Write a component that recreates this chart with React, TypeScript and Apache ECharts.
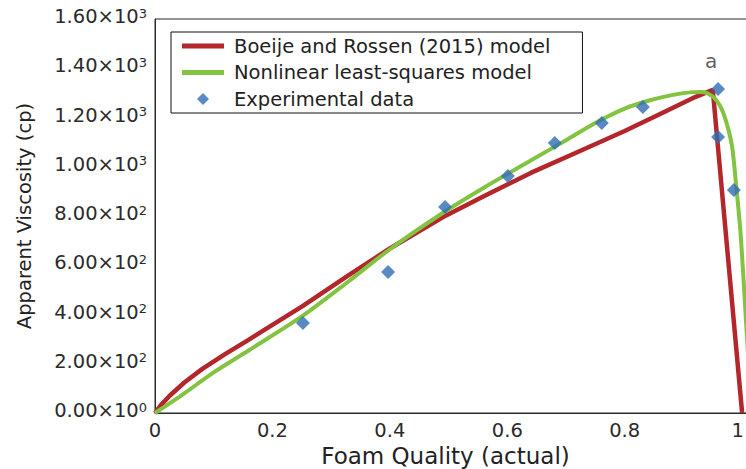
import React, { useEffect, useRef } from "react";
import * as echarts from "echarts";

// Boeije and Rossen (2015) model
const boeijeX = [0, 0.01, 0.025, 0.05, 0.08, 0.12, 0.16, 0.2, 0.25, 0.33, 0.4, 0.49, 0.56, 0.64, 0.72, 0.8, 0.87, 0.92, 0.95, 1.0];
const boeijeY = [0, 32, 70, 124, 178, 240, 298, 358, 432, 560, 668, 795, 880, 975, 1060, 1145, 1225, 1283, 1312, 0];

// Nonlinear least-squares model
const nlsX = [0, 0.05, 0.1, 0.16, 0.25, 0.33, 0.4, 0.49, 0.56, 0.64, 0.7, 0.75, 0.8, 0.84, 0.88, 0.91, 0.93, 0.95, 0.965, 0.975, 0.983, 0.99, 0.997, 1.004, 1.01, 1.017];
const nlsY = [0, 80, 165, 255, 392, 535, 665, 812, 915, 1025, 1108, 1178, 1236, 1268, 1291, 1302, 1304, 1285, 1235, 1165, 1080, 920, 740, 480, 240, 0];

// Experimental data
const expX = [0.252, 0.397, 0.494, 0.601, 0.681, 0.761, 0.831, 0.959, 0.959, 0.986];
const expY = [365, 573, 837, 962, 1096, 1178, 1243, 1316, 1121, 906];
const labelledPoint = 7;
const pointLabel = "a";

const seriesNames = [
  "Boeije and Rossen (2015) model",
  "Nonlinear least-squares model",
  "Experimental data",
];
const xTickLabels = ["0", "0.2", "0.4", "0.6", "0.8", "1"];
const xTitle = "Foam Quality (actual)";
const yTitle = "Apparent Viscosity (cp)";

const FONT = "DejaVu Sans";

function sciLabel(v: number): string {
  if (v === 0) return "{m|0.00×10}{e|0}";
  const e = Math.floor(Math.log10(v) + 1e-9);
  const m = (v / Math.pow(10, e)).toFixed(2);
  return `{m|${m}×10}{e|${e}}`;
}

export default function App() {
  const ref = useRef<HTMLDivElement>(null);
  useEffect(() => {
    if (!ref.current) return;
    const chart = echarts.init(ref.current, undefined, { renderer: "svg" });
    const option: any = {
      animation: false,
      backgroundColor: "#ffffff",
      grid: {
        left: 155,
        right: -2,
        top: 19,
        bottom: 56,
        show: true,
        borderColor: "#2a2a2a",
        borderWidth: 1,
        containLabel: false,
        outerBoundsMode: "none",
      },
      legend: {
        orient: "vertical",
        left: 171,
        top: 32,
        padding: [3, 32, 3, 11],
        itemGap: 4.5,
        itemWidth: 42,
        itemHeight: 12,
        symbolKeepAspect: true,
        borderColor: "#111",
        borderWidth: 1,
        textStyle: { fontFamily: FONT, fontSize: 19.5, color: "#222", lineHeight: 22, padding: [0, 0, 0, 5] },
        data: [
          { name: seriesNames[0], icon: "path://M0,0H42V5H0Z", itemStyle: { color: "#b3262b" } },
          { name: seriesNames[1], icon: "path://M0,0H42V5H0Z", itemStyle: { color: "#82c341" } },
          { name: seriesNames[2], icon: "path://M5,0L10,5L5,10L0,5Z", itemStyle: { color: "#2f6db4" } },
        ],
      },
      xAxis: {
        type: "value",
        min: 0,
        max: 1.01,
        interval: 0.2,
        name: xTitle,
        nameLocation: "middle",
        nameGap: 28,
        nameTextStyle: { fontFamily: FONT, fontSize: 23, color: "#222", padding: [0, 12, 0, 0] },
        axisLine: { show: true, lineStyle: { color: "#2a2a2a", width: 1 } },
        axisTick: { show: false },
        splitLine: { show: false },
        axisLabel: {
          margin: 7,
          fontFamily: FONT,
          fontSize: 19.5,
          color: "#2b2b2b",
          formatter: (v: number) => {
            const i = Math.round(v / 0.2);
            if (Math.abs(v - i * 0.2) < 1e-6 && i < xTickLabels.length) {
              return i === xTickLabels.length - 1 ? `{r|${xTickLabels[i]}}` : xTickLabels[i];
            }
            return "";
          },
          rich: {
            r: { fontFamily: FONT, fontSize: 19.5, color: "#2b2b2b", padding: [0, 9, 0, 0] },
          },
        },
      },
      yAxis: {
        type: "value",
        min: 0,
        max: 1600,
        interval: 200,
        name: yTitle,
        nameLocation: "middle",
        nameGap: 121,
        nameTextStyle: { fontFamily: FONT, fontSize: 19.5, color: "#222" },
        axisLine: { show: true, lineStyle: { color: "#2a2a2a", width: 1 } },
        axisTick: { show: false },
        splitLine: { show: false },
        axisLabel: {
          margin: 8,
          padding: [0, 0, 5, 0],
          formatter: (v: number) => sciLabel(v),
          rich: {
            m: { fontFamily: FONT, fontSize: 19.5, color: "#2b2b2b" },
            e: { fontFamily: FONT, fontSize: 13, color: "#2b2b2b", verticalAlign: "top" },
          },
        },
      },
      series: [
        {
          name: seriesNames[0],
          type: "line",
          data: boeijeX.map((x, i) => [x, boeijeY[i]]),
          showSymbol: false,
          symbol: "none",
          lineStyle: { color: "#b3262b", width: 4.5 },
          itemStyle: { color: "#b3262b" },
          z: 2,
        },
        {
          name: seriesNames[1],
          type: "line",
          data: nlsX.map((x, i) => [x, nlsY[i]]),
          smooth: 0.3,
          showSymbol: false,
          symbol: "none",
          lineStyle: { color: "#82c341", width: 4 },
          itemStyle: { color: "#82c341" },
          z: 3,
        },
        {
          name: seriesNames[2],
          type: "scatter",
          symbol: "diamond",
          symbolSize: 14,
          itemStyle: { color: "#2f6db4" },
          z: 4,
          data: expX.map((x, i) =>
            i === labelledPoint
              ? {
                  value: [x, expY[i]],
                  label: {
                    show: true,
                    formatter: pointLabel,
                    position: "top",
                    distance: 11,
                    offset: [-7, 0],
                    fontFamily: FONT,
                    fontSize: 20,
                    color: "#333",
                  },
                }
              : [x, expY[i]]
          ),
        },
      ],
    };
    chart.setOption(option);
    return () => chart.dispose();
  }, []);
  return (
    <div
      ref={ref}
      style={{ position: "fixed", left: 0, top: 0, width: 746, height: 469 }}
    />
  );
}
